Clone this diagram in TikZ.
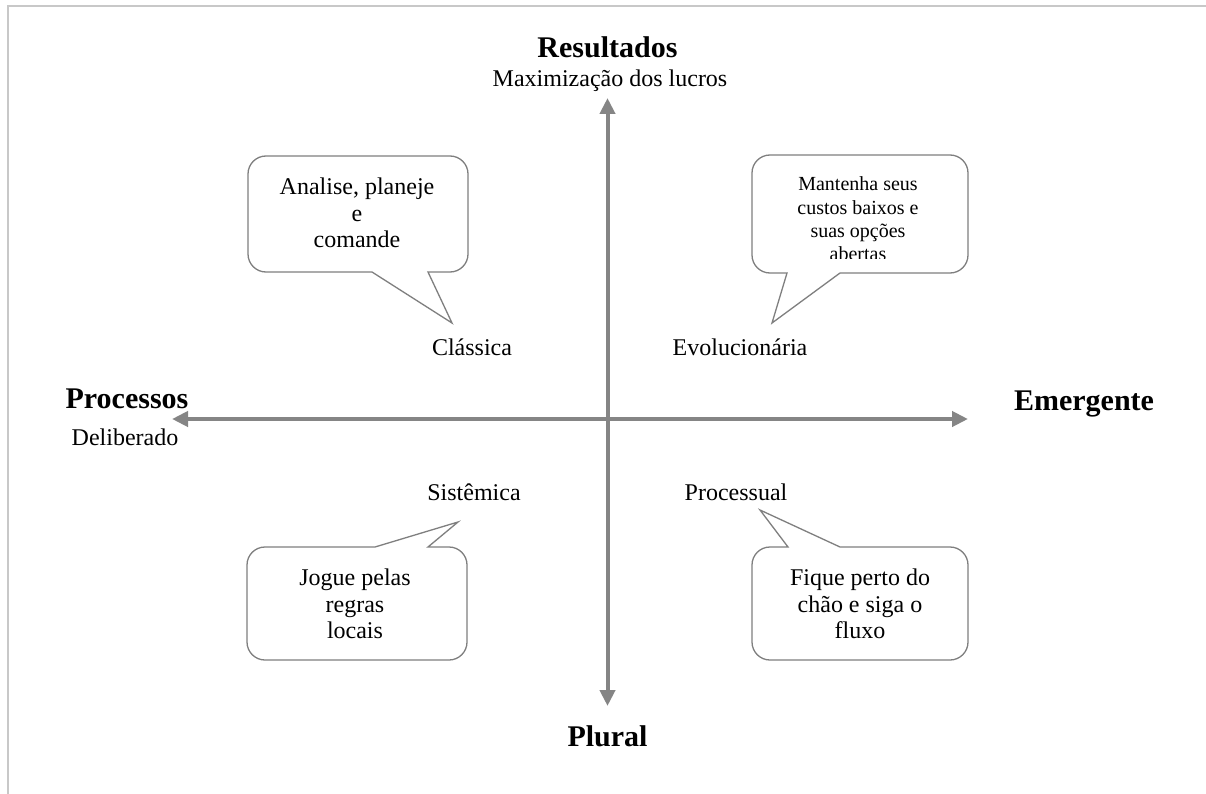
\documentclass[tikz,border=0pt]{standalone}
\usepackage{fontspec}
\setmainfont{Liberation Serif}
\usetikzlibrary{arrows.meta}
\definecolor{axisgray}{HTML}{858585}
\definecolor{bubblegray}{HTML}{7F7F7F}
\definecolor{framegray}{HTML}{C8C8C8}
\begin{document}
\begin{tikzpicture}[x=1pt,y=-1pt,
  axis/.style={draw=axisgray, line width=4pt, {Triangle[width=15pt,length=16pt]}-{Triangle[width=15pt,length=16pt]}},
  bubble/.style={draw=bubblegray, line width=1.3pt, fill=white},
  title/.style={font=\fontsize{30}{34}\selectfont\bfseries, anchor=base, inner sep=0pt},
  sub/.style={font=\fontsize{24}{28}\selectfont, anchor=base, inner sep=0pt},
  btext/.style={font=\fontsize{24}{26.5}\selectfont, align=center, inner sep=0pt},
  btextsmall/.style={font=\fontsize{20}{23.3}\selectfont, align=center, inner sep=0pt}]
\useasboundingbox (0,0) rectangle (1206,794);
\fill[white] (0,0) rectangle (1206,794);
% frame
\draw[framegray, line width=2pt] (8,794) -- (8,6) -- (1206,6);
% axes
\coordinate (L) at (172,419);
\coordinate (R) at (968,419);
\coordinate (T) at (607.5,98);
\coordinate (B) at (607.5,706);
\draw[axis] (L) -- (R);
\draw[axis] (T) -- (B);
% axis labels
\node[title] (res) at (607.5,58) {Resultados};
\node[sub] (max) at (610,87) {Maximização dos lucros};
\node[title] (proc) at (127,408) {Processos};
\node[sub] (delib) at (125,445) {Deliberado};
\node[title] (emer) at (1084,410) {Emergente};
\node[title] (plural) at (607.5,746) {Plural};
% quadrant labels
\node[sub] (classica) at (472,355) {Clássica};
\node[sub] (evol) at (740,355) {Evolucionária};
\node[sub] (sist) at (474,500) {Sistêmica};
\node[sub] (procs) at (736,500) {Processual};
% bubble TL
\draw[bubble] (248,214) [rounded corners=18pt] -- (248,156) -- (468,156) -- (468,272) [sharp corners] -- (428,272) -- (452,323) -- (372,272) [rounded corners=18pt] -- (248,272) -- cycle;
\node[btext] (tl) at (357,213) {Analise, planeje\\e\\comande};
% bubble TR
\draw[bubble] (752,214) [rounded corners=18pt] -- (752,155) -- (968,155) -- (968,273) [sharp corners] -- (840,273) -- (772,323) -- (787,273) [rounded corners=18pt] -- (752,273) -- cycle;
\begin{scope}
\clip (752,150) rectangle (968,258.5);
\node[btextsmall] (tr) at (858,219) {Mantenha seus\\custos baixos e\\suas opções\\abertas};
\end{scope}
% bubble BL
\draw[bubble] (247,604) [rounded corners=18pt] -- (247,547) [sharp corners] -- (375,547) -- (458,522) -- (428,547) [rounded corners=18pt] -- (467,547) -- (467,660) -- (247,660) -- cycle;
\node[btext] (bl) at (355,604) {Jogue pelas\\regras\\locais};
% bubble BR
\draw[bubble] (752,604) [rounded corners=18pt] -- (752,547) [sharp corners] -- (788,547) -- (760,510) -- (840,547) [rounded corners=18pt] -- (968,547) -- (968,660) -- (752,660) -- cycle;
\node[btext] (br) at (860,604) {Fique perto do\\chão e siga o\\fluxo};
\end{tikzpicture}
\end{document}
